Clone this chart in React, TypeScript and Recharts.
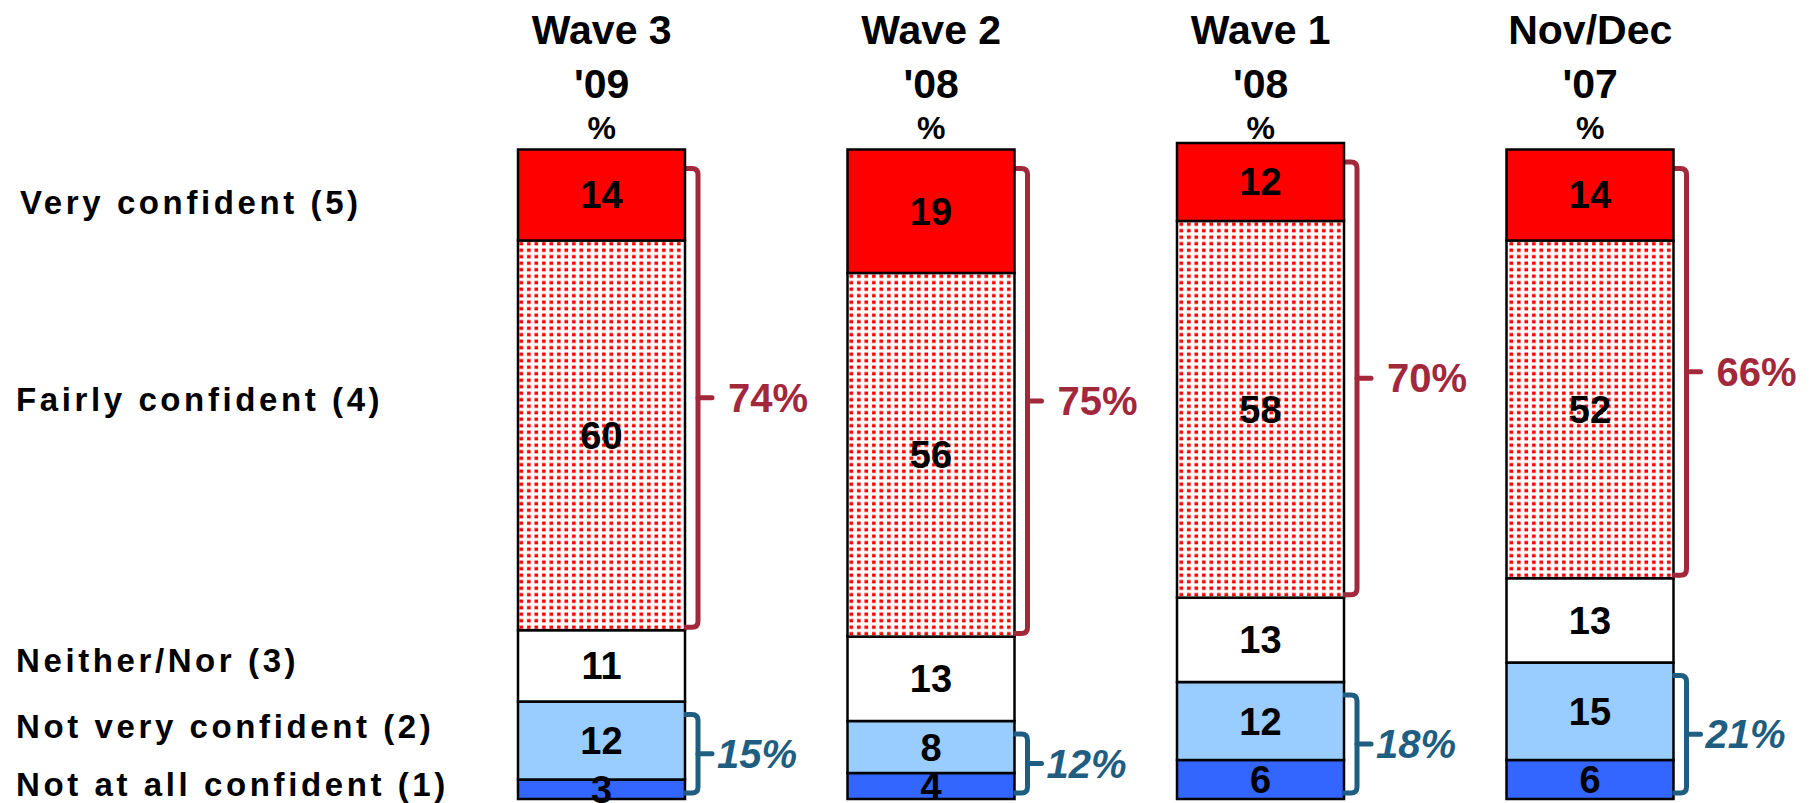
import React from "react";
import { BarChart, Bar, XAxis, YAxis, LabelList } from "recharts";

const waves = ["Wave 3", "Wave 2", "Wave 1", "Nov/Dec"];
const years = ["'09", "'08", "'08", "'07"];
const veryConfident = [14, 19, 12, 14];
const fairlyConfident = [60, 56, 58, 52];
const neitherNor = [11, 13, 13, 13];
const notVeryConfident = [12, 8, 12, 15];
const notAtAllConfident = [3, 4, 6, 6];
const topTwoBox = [74, 75, 70, 66];
const bottomTwoBox = [15, 12, 18, 21];
const rowLabels = [
  "Very confident (5)",
  "Fairly confident (4)",
  "Neither/Nor (3)",
  "Not very confident (2)",
  "Not at all confident (1)"
];

const FONT = "'Liberation Sans', Arial, sans-serif";
const RED_TXT = "#A2283B";
const BLUE_TXT = "#1F5E80";

const data = waves.map((wave, i) => ({
  wave,
  year: years[i],
  very: veryConfident[i],
  fairly: fairlyConfident[i],
  neither: neitherNor[i],
  notVery: notVeryConfident[i],
  notAtAll: notAtAllConfident[i],
  top2: topTwoBox[i],
  bottom2: bottomTwoBox[i]
}));

function Bracket({ edge, top, bottom, color, text, italic, gap }: any) {
  const xv = edge + 13;
  const r = 6;
  const mid = (top + bottom) / 2;
  const d = `M${edge - 1},${top} H${xv - r} Q${xv},${top} ${xv},${top + r} V${bottom - r} Q${xv},${bottom} ${xv - r},${bottom} H${edge - 1}`;
  return (
    <g>
      <path d={d} fill="none" stroke={color} strokeWidth={5} />
      <path d={`M${xv},${mid} H${xv + 14}`} stroke={color} strokeWidth={5} strokeLinecap="round" />
      <text
        x={edge + gap}
        y={mid + 14}
        fill={color}
        fontSize={40}
        fontWeight="bold"
        fontStyle={italic ? "italic" : "normal"}
        fontFamily={FONT}
      >
        {text}
      </text>
    </g>
  );
}

function FairlyShape(props: any) {
  const { x, y, width, height, payload } = props;
  const unit = height / payload.fairly;
  const top = y - payload.very * unit + 19;
  const bottom = y + height - 3;
  return (
    <g>
      <rect x={x} y={y} width={width} height={height} fill="url(#dots)" stroke="#000" strokeWidth={2.5} />
      <Bracket edge={x + width} top={top} bottom={bottom} color={RED_TXT} text={`${payload.top2}%`} gap={43} />
    </g>
  );
}

function NotVeryShape(props: any) {
  const { x, y, width, height, payload } = props;
  const unit = height / payload.notVery;
  const top = y + 13;
  const bottom = y + height + payload.notAtAll * unit - 6;
  return (
    <g>
      <rect x={x} y={y} width={width} height={height} fill="#99CCFF" stroke="#000" strokeWidth={2.5} />
      <Bracket edge={x + width} top={top} bottom={bottom} color={BLUE_TXT} text={`${payload.bottom2}%`} italic gap={32} />
    </g>
  );
}

function HeaderTick(props: any) {
  const { x, y, payload, index } = props;
  const common = { x, textAnchor: "middle" as const, fontFamily: FONT, fontWeight: "bold", fill: "#000" };
  return (
    <g>
      <text {...common} y={y - 99} fontSize={41}>{payload.value}</text>
      <text {...common} y={y - 45} fontSize={41}>{years[index]}</text>
      <text {...common} y={y - 4} fontSize={32}>%</text>
    </g>
  );
}

const labelProps = {
  position: "center" as const,
  fill: "#000",
  fontSize: 38,
  fontWeight: "bold",
  fontFamily: FONT
};

const rowLabelY = [214, 411, 672, 738, 796];
const rowLabelX = [20, 16, 16, 16, 16];

export default function App() {
  return (
    <div style={{ position: "absolute", left: 0, top: 0, width: 1810, height: 803, background: "#fff" }}>
      <BarChart
        width={1810}
        height={803}
        data={data}
        margin={{ top: 13, right: 55, bottom: 4, left: 437 }}
        barSize={167}
      >
        <defs>
          <pattern id="dots" x={0} y={0} width={7.5} height={6.5} patternUnits="userSpaceOnUse">
            <rect width={7.5} height={6.5} fill="#fff" />
            <rect x={2} y={1.5} width={3.6} height={3.4} fill="#FF0000" />
          </pattern>
        </defs>
        <XAxis
          dataKey="wave"
          orientation="top"
          height={130}
          axisLine={false}
          tickLine={false}
          tickSize={0}
          tickMargin={0}
          interval={0}
          tick={<HeaderTick />}
        />
        <YAxis hide domain={[0, 101]} />
        <Bar dataKey="notAtAll" stackId="a" fill="#3366FF" stroke="#000" strokeWidth={2.5} isAnimationActive={false}>
          <LabelList dataKey="notAtAll" {...labelProps} />
        </Bar>
        <Bar dataKey="notVery" stackId="a" fill="#99CCFF" shape={<NotVeryShape />} isAnimationActive={false}>
          <LabelList dataKey="notVery" {...labelProps} />
        </Bar>
        <Bar dataKey="neither" stackId="a" fill="#FFFFFF" stroke="#000" strokeWidth={2.5} isAnimationActive={false}>
          <LabelList dataKey="neither" {...labelProps} />
        </Bar>
        <Bar dataKey="fairly" stackId="a" fill="url(#dots)" shape={<FairlyShape />} isAnimationActive={false}>
          <LabelList dataKey="fairly" {...labelProps} />
        </Bar>
        <Bar dataKey="very" stackId="a" fill="#FF0000" stroke="#000" strokeWidth={2.5} isAnimationActive={false}>
          <LabelList dataKey="very" {...labelProps} />
        </Bar>
      </BarChart>
      <svg
        width={1810}
        height={803}
        style={{ position: "absolute", left: 0, top: 0, pointerEvents: "none" }}
      >
        {rowLabels.map((label, i) => (
          <text
            key={label}
            x={rowLabelX[i]}
            y={rowLabelY[i]}
            fontFamily={FONT}
            fontWeight="bold"
            fontSize={33}
            letterSpacing={3.6}
            fill="#000"
          >
            {label}
          </text>
        ))}
      </svg>
    </div>
  );
}
